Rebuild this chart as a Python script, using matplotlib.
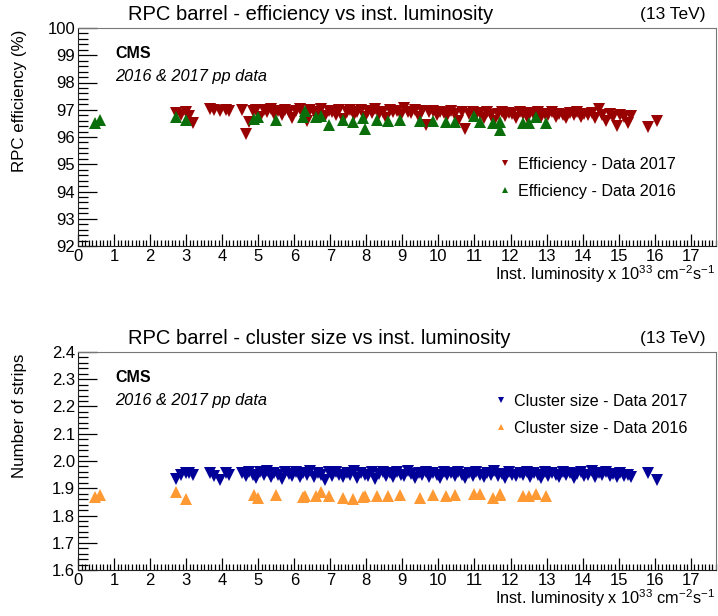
import numpy as np
import matplotlib.pyplot as plt
from matplotlib.ticker import MultipleLocator, AutoMinorLocator

plt.rcParams["font.family"] = ["Liberation Sans", "DejaVu Sans"]
plt.rcParams["mathtext.fontset"] = "custom"
plt.rcParams["mathtext.rm"] = "Liberation Sans"
plt.rcParams["mathtext.it"] = "Liberation Sans:italic"

# Inst. luminosity (1e33 cm^-2 s^-1) of the 2017 runs
LUMI_2017 = [
    2.72, 2.85, 3.0, 3.08, 3.18, 3.65, 3.78, 3.95, 4.1, 4.2,
    4.55, 4.65, 4.75, 4.85, 4.95, 5.05, 5.15, 5.25, 5.35, 5.45,
    5.55, 5.65, 5.75, 5.85, 5.95, 6.05, 6.15, 6.25, 6.35, 6.45,
    6.55, 6.65, 6.75, 6.85, 6.95, 7.05, 7.15, 7.25, 7.35, 7.45,
    7.55, 7.65, 7.75, 7.85, 7.95, 8.05, 8.15, 8.25, 8.35, 8.45,
    8.55, 8.65, 8.75, 8.85, 8.95, 9.05, 9.15, 9.25, 9.35, 9.45,
    9.55, 9.65, 9.75, 9.85, 9.95, 10.05, 10.15, 10.25, 10.35, 10.45,
    10.55, 10.65, 10.75, 10.85, 10.95, 11.05, 11.15, 11.25, 11.35, 11.45,
    11.55, 11.65, 11.75, 11.85, 11.95, 12.05, 12.15, 12.25, 12.35, 12.45,
    12.55, 12.65, 12.75, 12.85, 12.95, 13.05, 13.15, 13.25, 13.35, 13.45,
    13.55, 13.65, 13.75, 13.85, 13.95, 14.05, 14.15, 14.25, 14.35, 14.45,
    14.55, 14.65, 14.75, 14.85, 14.95, 15.05, 15.15, 15.25, 15.35,
    15.8, 16.05,
]
EFF_2017 = [
    96.88, 96.82, 96.9, 96.78, 96.5, 97.02, 96.98, 96.95, 97.0, 96.97,
    96.98, 96.1, 96.55, 96.95, 97.0, 96.75, 96.98, 96.9, 97.02, 96.85,
    96.95, 96.8, 97.0, 96.9, 96.7, 96.95, 97.02, 96.88, 96.6, 97.0,
    96.92, 96.85, 97.03, 96.78, 96.95, 96.9, 96.82, 97.0, 96.65, 96.93,
    96.98, 96.8, 96.9, 97.0, 96.75, 96.95, 96.88, 97.02, 96.85, 96.93,
    96.7, 97.0, 96.9, 96.96, 96.8, 97.05, 96.92, 96.87, 96.98, 96.75,
    96.95, 96.45, 96.9, 96.97, 96.82, 96.93, 96.88, 96.78, 96.95, 96.85,
    96.6, 96.9, 96.3, 96.85, 96.92, 96.8, 96.88, 96.7, 96.9, 96.82,
    96.6, 96.85, 96.92, 96.78, 96.88, 96.83, 96.7, 96.9, 96.85, 96.75,
    96.88, 96.8, 96.92, 96.72, 96.86, 96.8, 96.9, 96.75, 96.85, 96.82,
    96.7, 96.88, 96.8, 96.9, 96.74, 96.85, 96.8, 96.88, 96.7, 97.02,
    96.82, 96.6, 96.85, 96.75, 96.4, 96.8, 96.72, 96.5, 96.78,
    96.35, 96.6,
]
CLUSTER_2017 = [
    1.935, 1.95, 1.955, 1.957, 1.95, 1.955, 1.945, 1.93, 1.955, 1.95,
    1.955, 1.945, 1.96, 1.95, 1.938, 1.958, 1.948, 1.962, 1.94, 1.955,
    1.95, 1.935, 1.96, 1.952, 1.945, 1.958, 1.94, 1.955, 1.948, 1.962,
    1.942, 1.955, 1.95, 1.932, 1.958, 1.946, 1.96, 1.95, 1.94, 1.955,
    1.948, 1.962, 1.938, 1.955, 1.95, 1.945, 1.958, 1.935, 1.952, 1.96,
    1.946, 1.955, 1.94, 1.958, 1.95, 1.944, 1.962, 1.952, 1.938, 1.955,
    1.948, 1.96, 1.942, 1.955, 1.95, 1.936, 1.958, 1.948, 1.955, 1.944,
    1.96, 1.95, 1.938, 1.955, 1.946, 1.958, 1.95, 1.94, 1.955, 1.948,
    1.962, 1.945, 1.952, 1.938, 1.958, 1.95, 1.944, 1.956, 1.948, 1.96,
    1.942, 1.955, 1.95, 1.938, 1.958, 1.946, 1.955, 1.95, 1.942, 1.96,
    1.948, 1.955, 1.936, 1.952, 1.958, 1.945, 1.95, 1.962, 1.94, 1.955,
    1.948, 1.958, 1.945, 1.952, 1.94, 1.955, 1.946, 1.95, 1.94,
    1.955, 1.932,
]

LUMI_2016 = [
    0.47, 0.61, 2.72, 3.0, 4.87, 5.0, 5.5, 6.25, 6.3, 6.6,
    6.75, 6.97, 7.36, 7.64, 7.92, 7.95, 8.3, 8.6, 8.94, 9.5,
    9.86, 10.2, 10.47, 11.0, 11.15, 11.5, 11.7, 11.72, 12.35, 12.5,
    12.7, 12.97,
]
EFF_2016 = [
    96.5, 96.62, 96.74, 96.63, 96.65, 96.72, 96.63, 96.75, 96.95, 96.72,
    96.78, 96.45, 96.62, 96.55, 96.68, 96.28, 96.62, 96.6, 96.62, 96.6,
    96.6, 96.55, 96.55, 96.78, 96.55, 96.5, 96.55, 96.25, 96.5, 96.52,
    96.73, 96.5,
]
CLUSTER_2016 = [
    1.868, 1.874, 1.888, 1.86, 1.874, 1.865, 1.874, 1.868, 1.872, 1.87,
    1.885, 1.87, 1.865, 1.862, 1.868, 1.872, 1.87, 1.87, 1.874, 1.865,
    1.874, 1.87, 1.874, 1.88, 1.878, 1.865, 1.88, 1.876, 1.87, 1.872,
    1.88, 1.872,
]

W, H = 718, 616


def fx(px):
    return px / W


def fy(py):
    return 1 - py / H


fig = plt.figure(figsize=(W / 100, H / 100), dpi=100)

panels = [
    dict(top=28, ylim=(92, 100), ymaj=1, yfmt="{:.0f}",
         title="RPC barrel - efficiency vs inst. luminosity",
         ylabel="RPC efficiency (%)",
         y17=EFF_2017, y16=EFF_2016,
         c17="#990000", c16="#0a6e0a",
         l17="Efficiency - Data 2017", l16="Efficiency - Data 2016",
         leg=(497, 157)),
    dict(top=352, ylim=(1.6, 2.4), ymaj=0.1, yfmt="{:.1f}",
         title="RPC barrel - cluster size vs inst. luminosity",
         ylabel="Number of strips",
         y17=CLUSTER_2017, y16=CLUSTER_2016,
         c17="#000099", c16="#ff9933",
         l17="Cluster size - Data 2017", l16="Cluster size - Data 2016",
         leg=(493, 394)),
]

AX_LEFT, AX_RIGHT, AX_HEIGHT = 78, 716, 218

for p in panels:
    top = p["top"]
    bottom = top + AX_HEIGHT
    ax = fig.add_axes([fx(AX_LEFT), fy(bottom), fx(AX_RIGHT - AX_LEFT),
                       AX_HEIGHT / H])

    ax.plot(LUMI_2017, p["y17"], "v", color=p["c17"], ms=8.5, mew=0,
            linestyle="none", label=p["l17"])
    ax.plot(LUMI_2016, p["y16"], "^", color=p["c16"], ms=8.5, mew=0,
            linestyle="none", label=p["l16"])

    ax.set_xlim(0, 17.7)
    ax.set_ylim(*p["ylim"])
    ax.xaxis.set_major_locator(MultipleLocator(1))
    ax.xaxis.set_minor_locator(AutoMinorLocator(10))
    ax.yaxis.set_major_locator(MultipleLocator(p["ymaj"]))
    ax.yaxis.set_minor_locator(AutoMinorLocator(5))
    ax.set_yticks(ax.get_yticks())
    ax.set_yticklabels([p["yfmt"].format(v) for v in ax.get_yticks()])
    ax.set_ylim(*p["ylim"])

    ax.tick_params(axis="both", which="both", direction="in", top=False,
                   right=False, labelsize=12, colors="black", width=0.9)
    ax.tick_params(axis="y", which="major", length=14, pad=2)
    ax.tick_params(axis="y", which="minor", length=7)
    ax.tick_params(axis="x", which="major", length=9, pad=2)
    ax.tick_params(axis="x", which="minor", length=4.5)
    for side in ["left", "bottom"]:
        ax.spines[side].set_color("#222222")
    for side in ["top", "right"]:
        ax.spines[side].set_color("#777777")

    fig.text(fx(128), fy(top - 14), p["title"], fontsize=14.5, ha="left",
             va="center")
    fig.text(fx(706), fy(top - 13), "(13 TeV)", fontsize=12.5, ha="right",
             va="center")
    fig.text(fx(115), fy(top + 25), "CMS", fontsize=11.5, fontweight="bold",
             ha="left", va="center")
    fig.text(fx(115), fy(top + 48), "2016 & 2017 pp data", fontsize=11.8,
             style="italic", ha="left", va="center")
    fig.text(fx(20), fy(top + 2), p["ylabel"], fontsize=12.2, rotation=90,
             ha="center", va="top")
    fig.text(fx(715), fy(bottom + 28),
             "Inst. luminosity x 10$^{33}$ cm$^{-2}$s$^{-1}$", fontsize=11.8,
             ha="right", va="center")

    lx, ly = p["leg"]
    ax.legend(loc="upper left", bbox_to_anchor=(fx(lx), fy(ly)),
              bbox_transform=fig.transFigure, frameon=False, fontsize=11.6,
              markerscale=0.55, handlelength=1.0, handletextpad=0.3,
              labelspacing=0.72, borderpad=0, borderaxespad=0)

fig.savefig("out.png", dpi=100)
